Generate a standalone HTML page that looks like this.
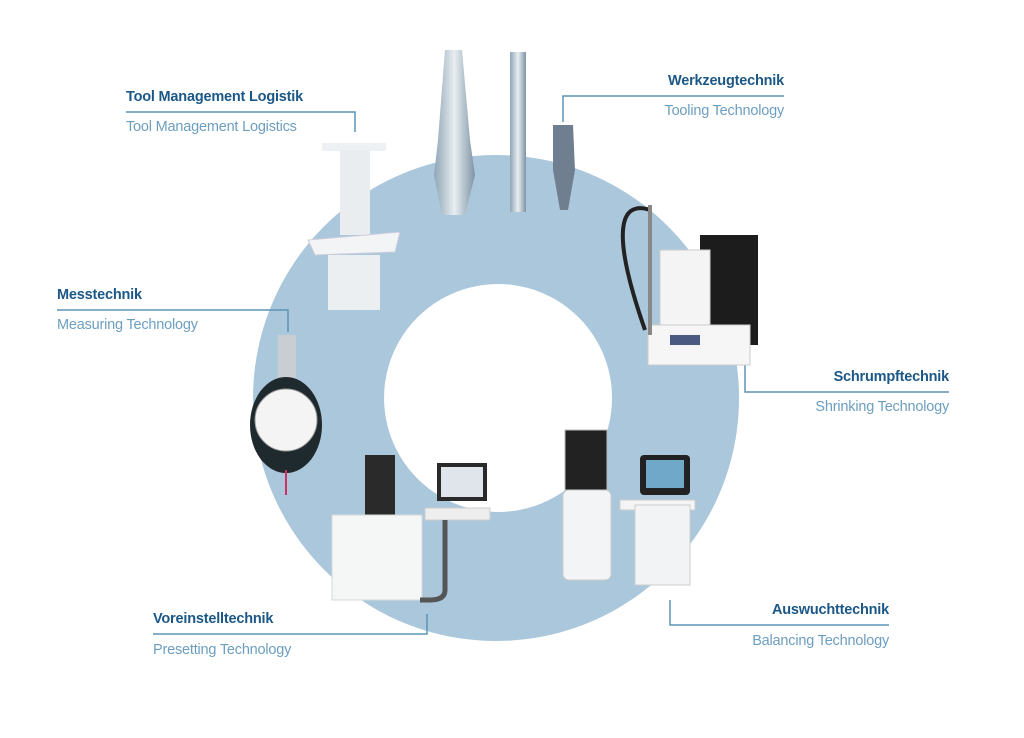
<!DOCTYPE html>
<html><head><meta charset="utf-8"><style>
body{margin:0;background:#fff;width:1024px;height:738px;overflow:hidden;position:relative;font-family:"Liberation Sans",sans-serif}
.t{position:absolute;font-size:14.5px;white-space:nowrap;letter-spacing:-0.2px}
.d{color:#1b5787;font-weight:bold}
.l{color:#6c9ec0}
.r{text-align:right}
</style></head><body>
<svg width="1024" height="738" style="position:absolute;left:0;top:0">
<defs>
<linearGradient id="g1" x1="0" x2="1"><stop offset="0" stop-color="#8fa5b5"/><stop offset=".5" stop-color="#e8eef2"/><stop offset="1" stop-color="#7d93a3"/></linearGradient>
</defs>
<path fill-rule="evenodd" fill="#abc7dc" d="M496,155a243,243 0 1,0 0.1,0Z M498,284a114,114 0 1,0 0.1,0Z"/>
<g fill="none" stroke="#5d93b6" stroke-width="1.5">
<polyline points="126,112 355,112 355,132"/>
<polyline points="784,96 563,96 563,122"/>
<polyline points="57,310 288,310 288,332"/>
<polyline points="949,392 745,392 745,362"/>
<polyline points="153,634 427,634 427,614"/>
<polyline points="889,625 670,625 670,600"/>
</g>
<rect x="322" y="143" width="64" height="8" fill="#eef1f3"/>
<rect x="340" y="150" width="30" height="85" fill="#e9edf0"/>
<polygon points="308,240 400,232 395,252 315,255" fill="#f2f4f6" stroke="#ccd"/>
<rect x="328" y="255" width="52" height="55" fill="#eceff1"/>
<polygon points="445,50 462,50 470,140 475,175 465,215 442,215 434,175 438,140" fill="url(#g1)"/>
<rect x="510" y="52" width="16" height="160" fill="url(#g1)"/>
<polygon points="553,125 573,125 575,170 568,210 560,210 553,170" fill="#6f7f90"/>
<rect x="700" y="235" width="58" height="110" fill="#1c1c1c"/>
<rect x="660" y="250" width="50" height="90" fill="#f4f4f4" stroke="#ccc"/>
<rect x="648" y="325" width="102" height="40" fill="#f6f6f6" stroke="#ccc"/>
<rect x="670" y="335" width="30" height="10" fill="#4a5a80"/>
<path d="M645,330 C610,230 620,200 650,210" stroke="#222" stroke-width="4" fill="none"/>
<rect x="648" y="205" width="4" height="130" fill="#888"/>
<rect x="278" y="335" width="18" height="45" fill="#c8ced2"/>
<ellipse cx="286" cy="425" rx="36" ry="48" fill="#1f2a2e"/>
<circle cx="286" cy="420" r="31" fill="#f4f4f4" stroke="#999"/>
<line x1="286" y1="470" x2="286" y2="495" stroke="#d03060" stroke-width="2"/>
<rect x="365" y="455" width="30" height="100" fill="#2a2a2a"/>
<rect x="332" y="515" width="90" height="85" fill="#f5f6f6" stroke="#d5d8da"/>
<rect x="437" y="463" width="50" height="38" fill="#2a2a2a"/>
<rect x="441" y="467" width="42" height="30" fill="#dfe5ea"/>
<rect x="425" y="508" width="65" height="12" fill="#eeeeee" stroke="#ccc"/>
<path d="M445,520 V590 Q445,600 430,600 H420" stroke="#555" stroke-width="5" fill="none"/>
<rect x="565" y="430" width="42" height="60" fill="#222" stroke="#bbb"/>
<rect x="563" y="490" width="48" height="90" rx="6" fill="#f3f4f5" stroke="#ccc"/>
<rect x="640" y="455" width="50" height="40" rx="4" fill="#222"/>
<rect x="646" y="460" width="38" height="28" fill="#6fa8c8"/>
<rect x="620" y="500" width="75" height="10" fill="#f4f4f4" stroke="#ccc"/>
<rect x="635" y="505" width="55" height="80" fill="#f2f3f4" stroke="#ccc"/>
</svg>
<div class="t d" style="left:126px;top:89px">Tool Management Logistik</div>
<div class="t l" style="left:126px;top:119px">Tool Management Logistics</div>
<div class="t d r" style="right:240px;top:73px">Werkzeugtechnik</div>
<div class="t l r" style="right:240px;top:103px">Tooling Technology</div>
<div class="t d" style="left:57px;top:287px">Messtechnik</div>
<div class="t l" style="left:57px;top:317px">Measuring Technology</div>
<div class="t d r" style="right:75px;top:369px">Schrumpftechnik</div>
<div class="t l r" style="right:75px;top:399px">Shrinking Technology</div>
<div class="t d" style="left:153px;top:611px">Voreinstelltechnik</div>
<div class="t l" style="left:153px;top:642px">Presetting Technology</div>
<div class="t d r" style="right:135px;top:602px">Auswuchttechnik</div>
<div class="t l r" style="right:135px;top:633px">Balancing Technology</div>
</body></html>
